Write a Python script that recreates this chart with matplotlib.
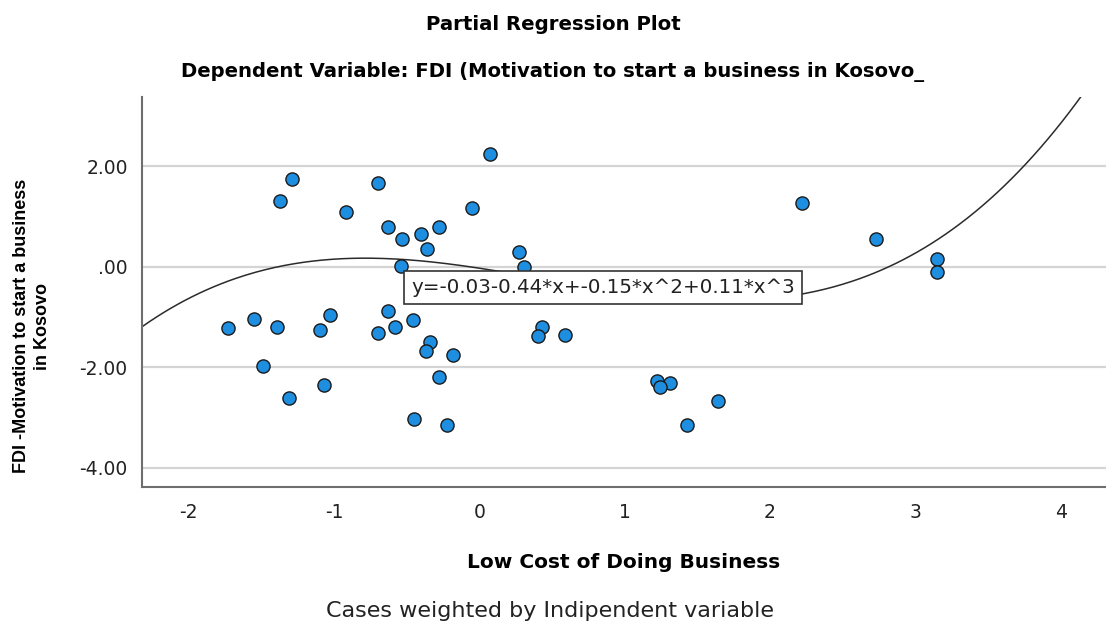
import matplotlib
matplotlib.use("Agg")
import matplotlib.pyplot as plt
import numpy as np

# partial residuals: Low Cost of Doing Business vs FDI motivation
x_vals = [-1.73, -1.55, -1.39, -1.49, -1.31, -1.37, -1.29, -1.10, -1.03, -1.07,
          -0.92, -0.70, -0.70, -0.63, -0.63, -0.58, -0.53, -0.54, -0.46, -0.45,
          -0.40, -0.36, -0.28, -0.34, -0.37, -0.18, -0.28, -0.22, -0.05, 0.07,
          0.27, 0.31, 0.43, 0.40, 0.59, 1.22, 1.31, 1.24, 1.64, 1.43,
          2.22, 2.73, 3.15, 3.15]
y_vals = [-1.21, -1.03, -1.19, -1.97, -2.61, 1.31, 1.74, -1.26, -0.97, -2.36,
          1.09, -1.32, 1.67, 0.78, -0.88, -1.20, 0.55, 0.01, -1.06, -3.02,
          0.66, 0.36, 0.79, -1.50, -1.68, -1.76, -2.20, -3.14, 1.16, 2.24,
          0.29, 0.00, -1.19, -1.37, -1.36, -2.27, -2.32, -2.40, -2.66, -3.14,
          1.27, 0.55, 0.15, -0.11]

# cubic fit coefficients (constant, x, x^2, x^3)
coefs = [-0.03, -0.44, -0.15, 0.11]

y_ticks = [2.0, 0.0, -2.0, -4.0]
y_tick_labels = ["2.00", ".00", "-2.00", "-4.00"]
x_ticks = [-2, -1, 0, 1, 2, 3, 4]

plt.rcParams['font.family'] = ['DejaVu Sans']

fig = plt.figure(figsize=(11.06, 6.29), dpi=100)
ax = fig.add_axes([0.128, 0.2265, 0.872, 0.6198])

xlim = (-2.325, 4.312)
ylim = (-4.37, 3.38)

for yt in y_ticks:
    ax.axhline(yt, color='#d4d4d4', lw=1.6, zorder=1)

xs = np.linspace(xlim[0], xlim[1], 400)
fit = coefs[0] + coefs[1] * xs + coefs[2] * xs**2 + coefs[3] * xs**3
ax.plot(xs, fit, color='#2b2b2b', lw=1.1, zorder=2)

ax.scatter(x_vals, y_vals, s=90, c='#1e8fe0', edgecolors='#1a1a1a',
           linewidths=1.0, zorder=3)

eq = "y={:.2f}{:+.2f}*x+{:.2f}*x^2+{:.2f}*x^3".format(*coefs)
ax.text(-0.47, -0.42, eq, fontsize=14.3, color='#222222', ha='left', va='center',
        zorder=5, bbox=dict(boxstyle='square,pad=0.35', fc='white',
                            ec='#333333', lw=1.2))

ax.set_xlim(*xlim)
ax.set_ylim(*ylim)
ax.set_xticks(x_ticks)
ax.set_xticklabels([str(t) for t in x_ticks])
ax.set_yticks(y_ticks)
ax.set_yticklabels(y_tick_labels)
ax.tick_params(axis='both', length=0, labelsize=13.5, colors='#222222')
ax.tick_params(axis='y', pad=10)
ax.tick_params(axis='x', pad=12)

for side in ('top', 'right'):
    ax.spines[side].set_visible(False)
for side in ('left', 'bottom'):
    ax.spines[side].set_color('#6e6e6e')
    ax.spines[side].set_linewidth(1.5)

fig.text(0.5, 1 - 25 / 629, "Partial Regression Plot", ha='center', va='center',
         fontsize=14.2, fontweight='bold')
fig.text(0.5, 1 - 72 / 629,
         "Dependent Variable: FDI (Motivation to start a business in Kosovo_",
         ha='center', va='center', fontsize=14.1, fontweight='bold')
fig.text(623.5 / 1106, 1 - 562 / 629, "Low Cost of Doing Business", ha='center',
         va='center', fontsize=14.5, fontweight='bold')
fig.text(550 / 1106, 1 - 611 / 629, "Cases weighted by Indipendent variable",
         ha='center', va='center', fontsize=16, color='#222222')
fig.text(32 / 1106, 1 - 326 / 629,
         "FDI -Motivation to start a business\nin Kosovo",
         rotation=90, ha='center', va='center', multialignment='center',
         fontsize=13, fontweight='bold', linespacing=1.25,
         family=['Liberation Sans'])

fig.savefig("out.png", dpi=100)
